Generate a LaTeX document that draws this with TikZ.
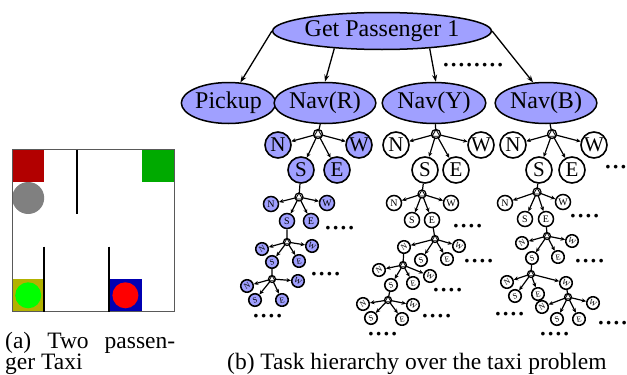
\documentclass[tikz,border=0pt]{standalone}
\usepackage{fontspec}
\setmainfont{Liberation Serif}
\usetikzlibrary{arrows.meta,shapes.geometric}

\definecolor{navfill}{RGB}{160,160,255}
\definecolor{taxired}{RGB}{178,0,0}
\definecolor{taxigreen}{RGB}{0,170,0}
\definecolor{taxiyellow}{RGB}{178,178,0}
\definecolor{taxiblue}{RGB}{0,0,178}

\tikzset{
  task/.style={ellipse, draw, line width=1.5pt, fill=navfill, inner sep=0pt, minimum height=41pt, font=\fontsize{24}{24}\selectfont},
  act/.style={circle, draw, fill=white, inner sep=0pt},
  junc/.style={circle, draw, fill=white, inner sep=0pt, outer sep=0pt},
  act one/.style={minimum size=26pt, line width=1.6pt, font=\fontsize{21}{21}\selectfont},
  act two/.style={minimum size=15pt, line width=1.5pt, font=\fontsize{10}{10}\selectfont},
  act three/.style={minimum size=12.5pt, line width=1.6pt, font=\fontsize{8}{8}\selectfont},
  act three N/.style={rotate=30},
  act three W/.style={rotate=-30},
  act three S/.style={rotate=20},
  act three E/.style={rotate=10},
  junc one/.style={minimum size=9pt, line width=1.3pt},
  junc two/.style={minimum size=8pt, line width=1.2pt},
  junc three/.style={minimum size=7pt, line width=1.2pt},
  move/.style={-{Stealth[length=4.5pt,width=4pt]}, line width=1.2pt},
  big move/.style={-{Stealth[length=7pt,width=5pt]}, line width=1.3pt},
  dots/.style={anchor=base west, inner sep=0pt, font=\fontsize{31}{31}\selectfont},
  caption text/.style={anchor=base west, inner sep=0pt, font=\fontsize{23.5}{21}\selectfont},
}

% one N/S/E/W expansion: prefix, junction, N, W, S, E, size
\newcommand{\nsew}[7]{%
  \node[junc,junc #7] (#1j) at (#2) {};
  \draw[line width=0.8pt] (#1j.90) -- (#1j.210) -- (#1j.330) -- cycle;
  \node[act,act #7,act #7 N/.try] (#1N) at (#3) {N};
  \node[act,act #7,act #7 W/.try] (#1W) at (#4) {W};
  \node[act,act #7,act #7 S/.try] (#1S) at (#5) {S};
  \node[act,act #7,act #7 E/.try] (#1E) at (#6) {E};
  \foreach \d in {N,W,S,E} \draw[move] (#1j) -- (#1\d);
}

\begin{document}
\begin{tikzpicture}[x=1pt,y=-1pt]
  \useasboundingbox (0,0) rectangle (627,375);

  % taxi grid
  \fill[taxired] (12,149.5) rectangle (44.4,181.9);
  \fill[taxigreen] (141.6,149.5) rectangle (174,181.9);
  \fill[taxiyellow] (12,279.1) rectangle (44.4,311.5);
  \fill[taxiblue] (109.2,279.1) rectangle (141.6,311.5);
  \fill[gray] (28.2,198) circle (16pt);
  \fill[green] (28.2,295.3) circle (13pt);
  \fill[red] (125.4,295.3) circle (13pt);
  \draw[gray!70!black, line width=1pt] (12,149.5) rectangle (174,311.5);
  \draw[line width=2pt] (76.8,149.5) -- (76.8,214.3);
  \draw[line width=2pt] (44.4,246.7) -- (44.4,311.5);
  \draw[line width=2pt] (109.2,246.7) -- (109.2,311.5);

  % task hierarchy
  \node[task, minimum width=185pt, minimum height=37pt] (root) at (382,31) {Get Passenger 1};
  \node[task, minimum width=89pt] (pick) at (228.5,103) {Pickup};
  \node[task, minimum width=88pt] (navr) at (325,103) {Nav(R)};
  \node[task, minimum width=86pt] (navy) at (434,103) {Nav(Y)};
  \node[task, minimum width=88pt] (navb) at (546,103) {Nav(B)};
  \draw[big move] (root.west) -- (pick.60);
  \draw[big move] (root.200) -- (navr.north);
  \draw[big move] (root.340) -- (navy.85);
  \draw[big move] (root.east) -- (navb.122);
  \node[dots] (d0) at (442,66) {........};

  \begin{scope}[act/.append style={fill=navfill}]
    \nsew{r1}{318,134}{278,145}{359,145}{301,170}{337,170}{one}
    \nsew{r2}{299,197}{271,204}{327,203}{287,221}{311,221}{two}
    \nsew{r3}{287,242}{262,249}{312,246}{272,262}{299,261}{three}
    \nsew{r4}{272,279}{247,286}{298,281}{255,300}{282,300}{three}
  \end{scope}
  \draw[line width=1.2pt] (navr) -- (r1j) (r1S) -- (r2j) (r2S) -- (r3j) (r3S) -- (r4j);
  \node[dots] (dr2) at (324,229) {....};
  \node[dots] (dr3) at (310,275) {....};
  \node[dots] (dr4) at (252,317) {....};

  \nsew{y1}{436,134}{396,145}{481,145}{425,170}{456,170}{one}
  \nsew{y2}{422,194}{394,203}{451,203}{412,220}{432,220}{two}
  \nsew{y3}{435,239}{404,247}{459,246}{421,260}{447,259}{three}
  \nsew{y4}{403,265}{379,270}{430,276}{391,285}{413,283}{three}
  \nsew{y5}{388,300}{363,304}{413,305}{371,318}{402,319}{three}
  \draw[line width=1.2pt] (navy) -- (y1j) (y1S) -- (y2j) (y2E) -- (y3j) (y3N) -- (y4j) (y4S) -- (y5j);
  \node[dots] (dy2) at (452,227) {....};
  \node[dots] (dy3) at (463,262) {....};
  \node[dots] (dy4) at (432,291) {....};
  \node[dots] (dy5) at (421,317) {....};
  \node[dots] (dy6) at (367,335) {....};

  \nsew{b1}{552,134}{513,145}{594,145}{539,170}{572,170}{one}
  \nsew{b2}{537,192}{505,203}{563,202}{525,219}{546,219}{two}
  \nsew{b3}{547,236}{522,243}{572,241}{532,258}{558,257}{three}
  \nsew{b4}{531,274}{507,282}{566,283}{515,296}{538,294}{three}
  \nsew{b5}{568,297}{542,307}{593,303}{557,319}{579,319}{three}
  \draw[line width=1.2pt] (navb) -- (b1j) (b1S) -- (b2j) (b2E) -- (b3j) (b3S) -- (b4j) (b4W) -- (b5j);
  \node[dots] (db1) at (604,168) {...};
  \node[dots] (db2) at (569,217) {....};
  \node[dots] (db3) at (574,262) {....};
  \node[dots] (db4) at (494,315) {....};
  \node[dots] (db5) at (597,324) {....};
  \node[dots] (db6) at (539,335) {....};

  % captions
  \node[caption text] (capa) at (5,348) {\hbox to 170pt{(a)\hfill Two\hfill passen-}};
  \node[caption text] (capa2) at (5,369) {ger Taxi};
  \node[caption text] (capb) at (227,369) {(b) Task hierarchy over the taxi problem};
\end{tikzpicture}
\end{document}
